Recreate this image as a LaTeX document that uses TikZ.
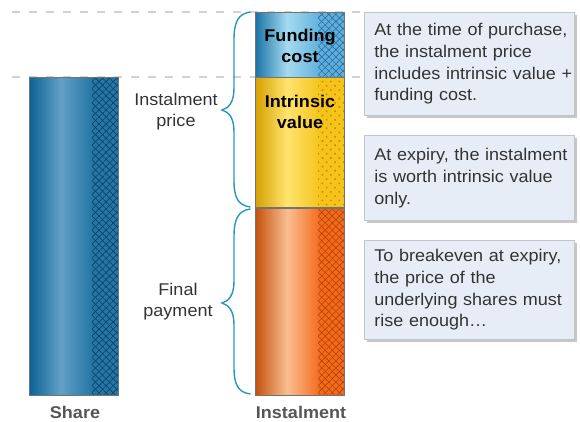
\documentclass[tikz,border=0pt]{standalone}
\usepackage{fontspec}
\setmainfont{Liberation Sans}[FakeStretch=1.06]
\usetikzlibrary{patterns.meta,shadows}
\definecolor{txt}{RGB}{51,51,51}
\definecolor{lbl}{RGB}{85,85,85}
\definecolor{boxfill}{RGB}{231,237,247}
\definecolor{boxline}{RGB}{192,197,204}
\definecolor{dashc}{RGB}{210,210,210}
\definecolor{bracec}{RGB}{40,150,192}
\definecolor{barline}{RGB}{115,115,115}
\definecolor{sL}{RGB}{12,98,148}
\definecolor{sM}{RGB}{98,160,200}
\definecolor{sR}{RGB}{38,118,165}
\definecolor{sH}{RGB}{10,65,105}
\definecolor{fL}{RGB}{25,115,165}
\definecolor{fM}{RGB}{165,218,240}
\definecolor{fR}{RGB}{95,175,220}
\definecolor{fH}{RGB}{40,110,160}
\definecolor{iL}{RGB}{215,160,0}
\definecolor{iM}{RGB}{255,228,110}
\definecolor{iR}{RGB}{245,195,25}
\definecolor{iH}{RGB}{190,135,0}
\definecolor{oL}{RGB}{195,80,10}
\definecolor{oM}{RGB}{250,190,145}
\definecolor{oR}{RGB}{245,105,25}
\definecolor{oH}{RGB}{175,70,15}
\pgfdeclarehorizontalshading{shareshade}{100bp}{color(0bp)=(sL); color(25bp)=(sL); color(43bp)=(sM); color(60bp)=(sR); color(75bp)=(sR); color(100bp)=(sR)}
\pgfdeclarehorizontalshading{fundshade}{100bp}{color(0bp)=(fL); color(25bp)=(fL); color(43bp)=(fM); color(62bp)=(fR); color(75bp)=(fR); color(100bp)=(fR)}
\pgfdeclarehorizontalshading{intrshade}{100bp}{color(0bp)=(iL); color(25bp)=(iL); color(43bp)=(iM); color(62bp)=(iR); color(75bp)=(iR); color(100bp)=(iR)}
\pgfdeclarehorizontalshading{orngshade}{100bp}{color(0bp)=(oL); color(25bp)=(oL); color(43bp)=(oM); color(62bp)=(oR); color(75bp)=(oR); color(100bp)=(oR)}
\begin{document}
\begin{tikzpicture}[x=1pt,y=-1pt,
  body/.style={font=\fontsize{17}{21}\selectfont, text=txt},
  box/.style={draw=boxline, fill=boxfill, line width=0.8pt,
    drop shadow={shadow xshift=3pt, shadow yshift=-3pt, fill=black, opacity=0.22},
    anchor=north west, minimum width=210pt, text width=190pt, align=left,
    inner xsep=10pt, inner ysep=0pt, font=\fontsize{17}{21.7}\selectfont, text=txt},
  guide/.style={draw=dashc, line width=1.3pt, dash pattern=on 8pt off 9pt},
  barframe/.style={draw=barline, line width=0.6pt},
  hatch/.style={pattern={Lines[angle=45,distance=5pt,line width=0.6pt]}},
  hatchb/.style={pattern={Lines[angle=-45,distance=5pt,line width=0.6pt]}},
  dotted fill/.style={pattern={Dots[angle=45,distance=6pt,radius=1.15pt]}},
  brace/.style={draw=bracec, line width=1.4pt, line cap=round},
  barlabel/.style={font=\fontsize{17}{21}\bfseries\selectfont, text=black, align=center},
  axislabel/.style={font=\fontsize{17}{21}\bfseries\selectfont, text=lbl, anchor=base},
  sidelabel/.style={body, align=center}]
\useasboundingbox (0,0) rectangle (580,421);
% guide lines
\coordinate (g1a) at (12,12); \coordinate (g1b) at (360,12);
\coordinate (g2a) at (12,77); \coordinate (g2b) at (360,77);
\draw[guide] (g1a) -- (g1b);
\draw[guide] (g2a) -- (g2b);
% share bar
\path[shading=shareshade] (29,77) rectangle (118,395);
\path[hatch, pattern color=sH, fill opacity=0.35] (92,77) rectangle (118,395);
\path[hatchb, pattern color=sH, fill opacity=0.35] (92,77) rectangle (118,395);
\path[barframe] (29,77) rectangle (118,395);
% instalment: funding cost
\path[shading=fundshade] (255,12) rectangle (344,77);
\path[hatch, pattern color=fH, fill opacity=0.35] (318,12) rectangle (344,77);
\path[hatchb, pattern color=fH, fill opacity=0.35] (318,12) rectangle (344,77);
\path[barframe] (255,12) rectangle (344,77);
% intrinsic value
\path[shading=intrshade] (255,77.5) rectangle (344,207);
\path[dotted fill, pattern color=iH, fill opacity=0.9] (318,77.5) rectangle (344,207);
\path[barframe] (255,77.5) rectangle (344,207);
% final payment
\path[shading=orngshade] (255,208.5) rectangle (344,395);
\path[hatch, pattern color=oH, fill opacity=0.35] (318,208.5) rectangle (344,395);
\path[hatchb, pattern color=oH, fill opacity=0.35] (318,208.5) rectangle (344,395);
\path[barframe] (255,208.5) rectangle (344,395);
% bar labels
\node[barlabel] (fund) at (300,46) {Funding\\cost};
\node[barlabel] (intr) at (300,112) {Intrinsic\\value};
% braces
\draw[brace] (250,12) .. controls (238,14) and (234,22) .. (234,40) -- (234,88)
  .. controls (234,102) and (229,108) .. (222,110)
  .. controls (229,112) and (234,118) .. (234,132) -- (234,180)
  .. controls (234,198) and (238,205) .. (250,207);
\draw[brace] (250,209) .. controls (238,211) and (234,219) .. (234,237) -- (234,281)
  .. controls (234,295) and (229,301) .. (222,303)
  .. controls (229,305) and (234,311) .. (234,325) -- (234,367)
  .. controls (234,385) and (238,392) .. (250,394);
% side labels
\node[sidelabel] (iprice) at (176,112) {Instalment\\price};
\node[sidelabel] (final) at (178,302) {Final\\payment};
% axis labels
\node[axislabel] (share) at (75,418) {Share};
\node[axislabel] (inst) at (301,418) {Instalment};
% notes
\node[box, minimum height=103pt] (n1) at (364,12) {\mbox{At the time of purchase,}\\\mbox{the instalment price}\\\mbox{includes intrinsic value +}\\\mbox{funding cost.}};
\node[box, minimum height=85pt] (n2) at (364,135) {\mbox{At expiry, the instalment}\\\mbox{is worth intrinsic value}\\\mbox{only.}};
\node[box, minimum height=99pt] (n3) at (364,240) {\mbox{To breakeven at expiry,}\\\mbox{the price of the}\\\mbox{underlying shares must}\\\mbox{rise enough\dots}};
\end{tikzpicture}
\end{document}
